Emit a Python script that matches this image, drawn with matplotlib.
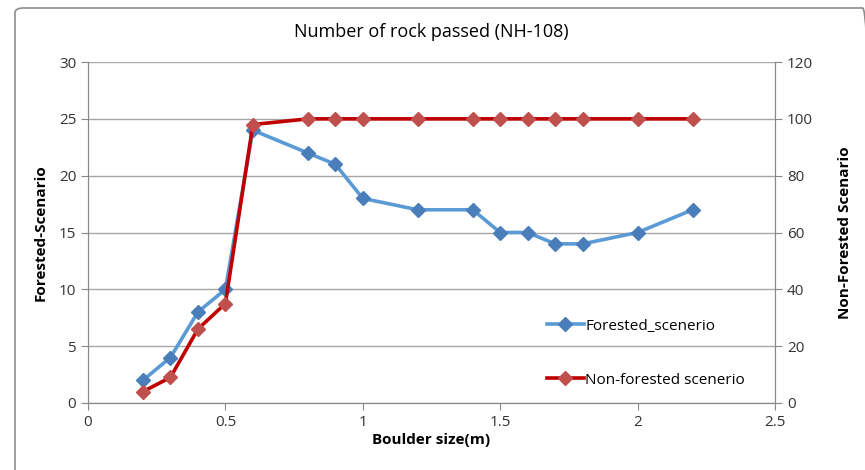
import matplotlib.pyplot as plt
from matplotlib.patches import FancyBboxPatch

plt.rcParams["font.family"] = ["Open Sans", "DejaVu Sans"]

boulder = [0.2, 0.3, 0.4, 0.5, 0.6, 0.8, 0.9, 1.0, 1.2, 1.4, 1.5, 1.6, 1.7, 1.8, 2.0, 2.2]
forested = [2, 4, 8, 10, 24, 22, 21, 18, 17, 17, 15, 15, 14, 14, 15, 17]
non_forested = [4, 9, 26, 35, 98, 100, 100, 100, 100, 100, 100, 100, 100, 100, 100, 100]

blue = "#5b9bd5"
blue_mk = "#4a7ebb"
red = "#c00000"
red_mk = "#c0504d"
grid_c = "#a6a6a6"

fig = plt.figure(figsize=(8.65, 4.7), dpi=100)
ax = fig.add_axes([0.1017, 0.1426, 0.7943, 0.7254])
ax2 = ax.twinx()

fig.patches.append(FancyBboxPatch((15 / 865, -0.05), 0.99, 1 - 8 / 470 + 0.05,
                                  boxstyle="round,pad=0,rounding_size=0.01",
                                  transform=fig.transFigure, fill=False,
                                  edgecolor="#8c8c8c", linewidth=1.2))

l1, = ax.plot(boulder, forested, color=blue, lw=2.6, marker="D", ms=7,
              mfc=blue_mk, mec=blue_mk, label="Forested_scenerio", zorder=3)
l2, = ax2.plot(boulder, non_forested, color=red, lw=2.6, marker="D", ms=7,
               mfc=red_mk, mec=red_mk, label="Non-forested scenerio", zorder=3)

ax.set_xlim(0, 2.5)
ax.set_ylim(0, 30)
ax2.set_ylim(0, 120)
ax.set_xticks([0, 0.5, 1, 1.5, 2, 2.5])
ax.set_xticklabels(["0", "0.5", "1", "1.5", "2", "2.5"])
ax.set_yticks(range(0, 31, 5))
ax2.set_yticks(range(0, 121, 20))

ax.yaxis.grid(True, color=grid_c, lw=1)
ax.set_axisbelow(True)

for a in (ax, ax2):
    a.spines["top"].set_visible(False)
    for s in ("left", "right", "bottom"):
        a.spines[s].set_color("#888888")
    a.tick_params(colors="#888888", labelcolor="#333333", labelsize=11, length=5)

ax.set_xlabel("Boulder size(m)", fontsize=11, fontweight="bold", labelpad=2)
ax.set_ylabel("Forested-Scenario", fontsize=11, fontweight="bold", labelpad=8)
ax2.set_ylabel("Non-Forested Scenario", fontsize=11, fontweight="bold", labelpad=18)
ax.set_title("Number of rock passed (NH-108)", fontsize=13, pad=18)

ax.legend(handles=[l1, l2], loc="lower left", bbox_to_anchor=(0.648, 0.005),
          frameon=False, fontsize=11, labelspacing=2.55, handlelength=2.4,
          handletextpad=0.1)

fig.savefig("out.png", dpi=100)
